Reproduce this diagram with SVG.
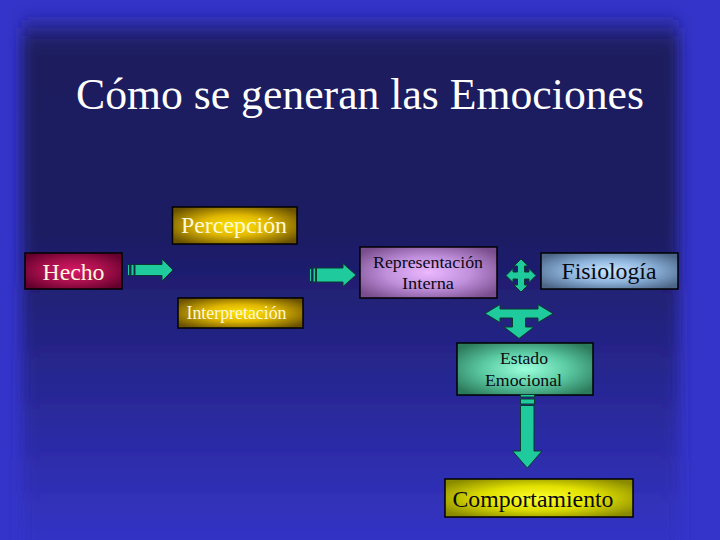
<svg xmlns="http://www.w3.org/2000/svg" width="720" height="540" viewBox="0 0 720 540">
<defs>
<filter id="soft" filterUnits="userSpaceOnUse" x="-80" y="-80" width="880" height="760">
<feGaussianBlur stdDeviation="7 12"/>
</filter>
<linearGradient id="bgv" x1="0" y1="0" x2="0" y2="1">
<stop offset="0" stop-color="#1B1A5E"/>
<stop offset="0.33" stop-color="#1C1B62"/>
<stop offset="0.85" stop-color="#3434CA"/>
<stop offset="1" stop-color="#3434CA"/>
</linearGradient>
<radialGradient id="gGold" cx="0.5" cy="0.5" r="0.62">
<stop offset="0" stop-color="#FFE400"/>
<stop offset="0.45" stop-color="#E0B800"/>
<stop offset="1" stop-color="#6A5200"/>
</radialGradient>
<radialGradient id="gRed" cx="0.5" cy="0.5" r="0.62">
<stop offset="0" stop-color="#D81868"/>
<stop offset="0.5" stop-color="#A8104C"/>
<stop offset="1" stop-color="#64002C"/>
</radialGradient>
<radialGradient id="gPurple" cx="0.5" cy="0.5" r="0.62">
<stop offset="0" stop-color="#ECB8FF"/>
<stop offset="0.5" stop-color="#C090DC"/>
<stop offset="1" stop-color="#7A4E8E"/>
</radialGradient>
<radialGradient id="gSteel" cx="0.5" cy="0.5" r="0.62">
<stop offset="0" stop-color="#C8E6FF"/>
<stop offset="0.5" stop-color="#8EB4DC"/>
<stop offset="1" stop-color="#4C6688"/>
</radialGradient>
<radialGradient id="gGreen" cx="0.5" cy="0.5" r="0.62">
<stop offset="0" stop-color="#9CFFDC"/>
<stop offset="0.5" stop-color="#5CCCA4"/>
<stop offset="1" stop-color="#2C7A5C"/>
</radialGradient>
<radialGradient id="gYellow" cx="0.5" cy="0.5" r="0.62">
<stop offset="0" stop-color="#FFFF30"/>
<stop offset="0.5" stop-color="#E0E000"/>
<stop offset="1" stop-color="#8A8A00"/>
</radialGradient>
</defs>
<style>
.box{stroke:#000;stroke-width:1.5}
text{font-family:"Liberation Serif","Times New Roman",Tinos,"DejaVu Serif","Noto Serif",serif}
.t{text-anchor:middle}
.lt{fill:#FFF8DC}
.dk{fill:#0A0A14}
.arr{fill:#1FCB9C;stroke:#0A3A2E;stroke-width:1;stroke-linejoin:miter}
</style>

<rect x="0" y="0" width="720" height="540" fill="#3434CA"/>
<rect x="22" y="28" width="657" height="620" fill="url(#bgv)" filter="url(#soft)"/>

<text class="t" x="360" y="109" font-size="44" fill="#FFFFFF" textLength="568" lengthAdjust="spacingAndGlyphs">Cómo se generan las Emociones</text>

<g id="hecho">
<rect class="box" x="25" y="253" width="97" height="36" fill="url(#gRed)"/>
<text class="t lt" x="73.5" y="280" font-size="24" textLength="62" lengthAdjust="spacingAndGlyphs">Hecho</text>
</g>

<g id="percepcion">
<rect class="box" x="172.5" y="207" width="124.5" height="37" fill="url(#gGold)"/>
<text class="t lt" x="234" y="233" font-size="24" textLength="106" lengthAdjust="spacingAndGlyphs">Percepción</text>
</g>

<g id="interpretacion">
<rect class="box" x="178" y="298" width="125" height="30" fill="url(#gGold)"/>
<text class="t lt" x="236.5" y="319" font-size="18" textLength="100" lengthAdjust="spacingAndGlyphs">Interpretación</text>
</g>

<g id="representacion">
<rect class="box" x="360" y="247" width="137" height="51" fill="url(#gPurple)"/>
<text class="t dk" x="428" y="268" font-size="17.5" textLength="110" lengthAdjust="spacingAndGlyphs">Representación</text>
<text class="t dk" x="428" y="289" font-size="17.5" textLength="52" lengthAdjust="spacingAndGlyphs">Interna</text>
</g>

<g id="fisiologia">
<rect class="box" x="541" y="253" width="137" height="36" fill="url(#gSteel)"/>
<text class="t dk" x="609" y="279" font-size="24" textLength="95" lengthAdjust="spacingAndGlyphs">Fisiología</text>
</g>

<g id="estado">
<rect class="box" x="457" y="343" width="136" height="52" fill="url(#gGreen)"/>
<text class="t dk" x="524" y="363.5" font-size="17.5" textLength="48" lengthAdjust="spacingAndGlyphs">Estado</text>
<text class="t dk" x="523.5" y="386" font-size="17.5" textLength="77" lengthAdjust="spacingAndGlyphs">Emocional</text>
</g>

<g id="comportamiento">
<rect class="box" x="445" y="479" width="188" height="38" fill="url(#gYellow)"/>
<text class="t dk" x="533" y="507" font-size="24" textLength="161" lengthAdjust="spacingAndGlyphs">Comportamiento</text>
</g>

<g id="connectors">
<rect class="arr" x="127.5" y="264.5" width="2" height="11"/>
<rect class="arr" x="131" y="264.5" width="3" height="11"/>
<path class="arr" d="M135,264.5 L162,264.5 L162,259 L173,270 L162,281 L162,275.5 L135,275.5 Z"/>
<rect class="arr" x="309.5" y="268" width="2" height="14"/>
<rect class="arr" x="313" y="268" width="2.5" height="14"/>
<path class="arr" d="M316.5,268 L343,268 L343,263.5 L356,275 L343,286.5 L343,282 L316.5,282 Z"/>
<path class="arr" d="M521,259 L528,266 L524.5,266 L524.5,272 L529,272 L529,268.5 L536,275.5 L529,282.5 L529,279 L524.5,279 L524.5,285 L528,285 L521,292 L514,285 L517.5,285 L517.5,279 L513,279 L513,282.5 L506,275.5 L513,268.5 L513,272 L517.5,272 L517.5,266 L514,266 Z"/>
<path class="arr" d="M485,313.5 L500,304.5 L500,309 L538,309 L538,304.5 L553,313.5 L538,322.5 L538,318 L525.5,318 L525.5,327 L534,327 L519,338.5 L504,327 L512.5,327 L512.5,318 L500,318 L500,322.5 Z"/>
<rect class="arr" x="520.5" y="394.5" width="14" height="2.5"/>
<rect class="arr" x="520.5" y="399" width="14" height="5"/>
<path class="arr" d="M520.5,405.5 L534,405.5 L534,451 L542,451 L527.3,468 L512.5,451 L520.5,451 Z"/>
</g>
</svg>
